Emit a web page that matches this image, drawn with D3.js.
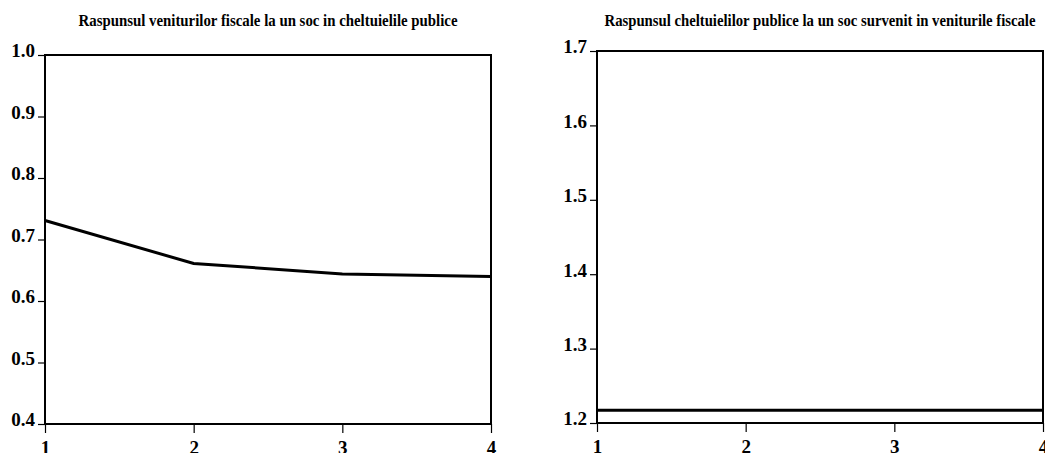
<!DOCTYPE html>
<html>
<head>
<meta charset="utf-8">
<script src="https://cdn.jsdelivr.net/npm/d3@7"></script>
<style>
body { margin: 0; background: #fff; }
svg { display: block; }
.tick text { font-family: "Liberation Serif", "Times New Roman", serif; font-weight: bold; font-size: 19px; fill: #000; }
.tick line { stroke: #000; stroke-width: 1.2; }
.title { font-family: "Liberation Serif", "Times New Roman", serif; font-weight: bold; font-size: 16px; fill: #000; }
</style>
</head>
<body>
<svg id="chart" width="1045" height="453"></svg>
<script>
// periods after the shock
var periods = [1, 2, 3, 4]
// response of fiscal revenues to a shock in public spending
var revenueResponse = [0.731, 0.661, 0.644, 0.640]
// response of public spending to a shock in fiscal revenues
var spendingResponse = [1.217, 1.217, 1.217, 1.217]

var leftTicks = [0.4, 0.5, 0.6, 0.7, 0.8, 0.9, 1.0]
var rightTicks = [1.2, 1.3, 1.4, 1.5, 1.6, 1.7]

var titles = ['Raspunsul veniturilor fiscale la un soc in cheltuielile publice',
              'Raspunsul cheltuielilor publice la un soc survenit in veniturile fiscale']

var svg = d3.select('#chart')

function drawPanel(opt){
    var x = d3.scaleLinear().domain([1, 4]).range([opt.left, opt.right])
    var y = d3.scaleLinear().domain(opt.domain).range([opt.bottom, opt.top])
    var g = svg.append('g')

    g.append('text').attr('class', 'title')
        .attr('x', (opt.left + opt.right) / 2).attr('y', 26)
        .attr('text-anchor', 'middle')
        .attr('textLength', opt.titleWidth).attr('lengthAdjust', 'spacingAndGlyphs')
        .text(opt.title)

    var yAxis = d3.axisLeft(y).tickValues(opt.ticks).tickFormat(d3.format('.1f'))
        .tickSize(7).tickSizeOuter(0).tickPadding(3)
    var ya = g.append('g').attr('transform', 'translate(' + opt.left + ',0)').call(yAxis)
    ya.select('.domain').remove()
    ya.selectAll('.tick text').attr('dy', '0.1em')

    var xAxis = d3.axisBottom(x).tickValues(periods).tickFormat(d3.format('d'))
        .tickSize(9).tickSizeOuter(0).tickPadding(8)
    var xa = g.append('g').attr('transform', 'translate(0,' + opt.bottom + ')').call(xAxis)
    xa.select('.domain').remove()

    g.append('rect')
        .attr('x', opt.left).attr('y', opt.top)
        .attr('width', opt.right - opt.left).attr('height', opt.bottom - opt.top)
        .attr('fill', 'none').attr('stroke', '#000').attr('stroke-width', 2)

    var line = d3.line().x(function(d, i){ return x(periods[i]) }).y(function(d){ return y(d) })
    g.append('path')
        .datum(opt.values)
        .attr('d', line)
        .attr('fill', 'none')
        .attr('stroke', '#000')
        .attr('stroke-width', 3)
}

drawPanel({left: 45, right: 491, top: 55, bottom: 424, domain: [0.4, 1.0],
           ticks: leftTicks, values: revenueResponse, title: titles[0], titleWidth: 379})
drawPanel({left: 597, right: 1043, top: 51, bottom: 423, domain: [1.2, 1.7],
           ticks: rightTicks, values: spendingResponse, title: titles[1], titleWidth: 431})
</script>
</body>
</html>
